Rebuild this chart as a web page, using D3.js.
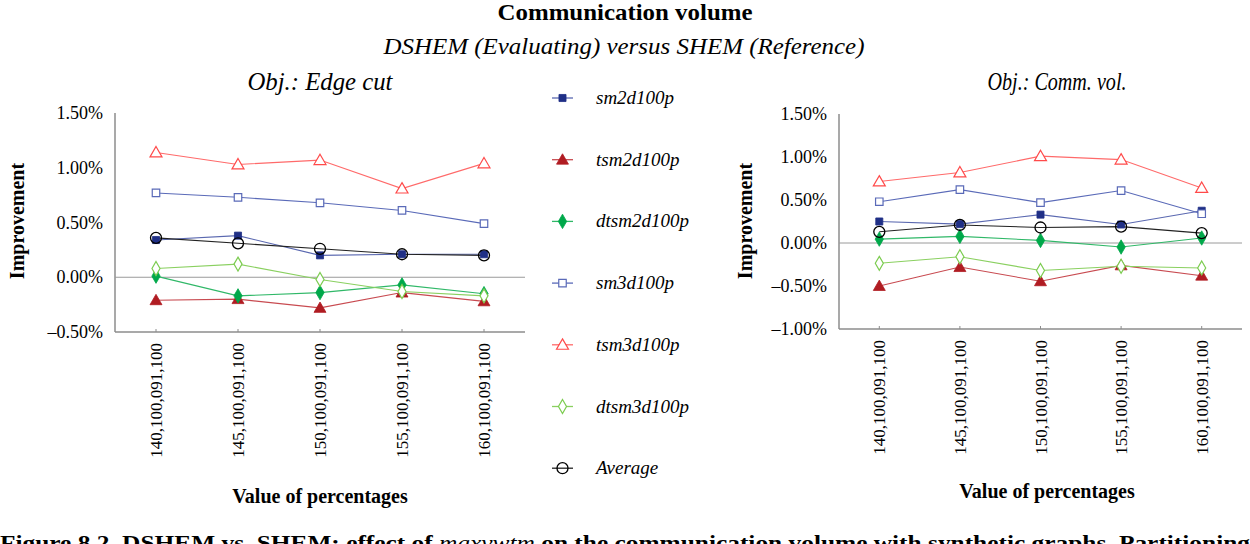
<!DOCTYPE html>
<html>
<head>
<meta charset="utf-8">
<script src="https://cdn.jsdelivr.net/npm/d3@7"></script>
<style>
  html, body { margin: 0; padding: 0; background: #fff; }
  svg { display: block; }
  text { font-family: "Liberation Serif", "Times New Roman", serif; fill: #000; }
</style>
</head>
<body>
<svg id="chart" width="1250" height="544"></svg>
<script>
// ---------- DATA ----------
const categories = ["140,100,091,100", "145,100,091,100", "150,100,091,100", "155,100,091,100", "160,100,091,100"];
const seriesNames = ["sm2d100p", "tsm2d100p", "dtsm2d100p", "sm3d100p", "tsm3d100p", "dtsm3d100p", "Average"];

// Obj.: Edge cut (values in %)
const edgeSm2d   = [0.34, 0.38, 0.20, 0.21, 0.21];
const edgeTsm2d  = [-0.21, -0.20, -0.28, -0.14, -0.22];
const edgeDtsm2d = [0.01, -0.17, -0.14, -0.07, -0.15];
const edgeSm3d   = [0.77, 0.73, 0.68, 0.61, 0.49];
const edgeTsm3d  = [1.14, 1.03, 1.07, 0.81, 1.04];
const edgeDtsm3d = [0.08, 0.12, -0.02, -0.13, -0.17];
const edgeAvg    = [0.36, 0.31, 0.26, 0.21, 0.20];

// Obj.: Comm. vol. (values in %)
const commSm2d   = [0.25, 0.22, 0.33, 0.215, 0.375];
const commTsm2d  = [-0.50, -0.28, -0.445, -0.26, -0.38];
const commDtsm2d = [0.045, 0.077, 0.03, -0.047, 0.058];
const commSm3d   = [0.48, 0.62, 0.47, 0.61, 0.34];
const commTsm3d  = [0.715, 0.82, 1.01, 0.97, 0.64];
const commDtsm3d = [-0.236, -0.16, -0.32, -0.27, -0.29];
const commAvg    = [0.13, 0.21, 0.18, 0.19, 0.115];

const edgeTicks = [-0.5, 0, 0.5, 1.0, 1.5];
const commTicks = [-1.0, -0.5, 0, 0.5, 1.0, 1.5];

// ---------- STYLES ----------
const styles = {
  "sm2d100p":   { color: "#1f2f86", line: "#5a68b0", shape: "square",   fill: true },
  "tsm2d100p":  { color: "#b01c22", line: "#c84a50", shape: "triangle", fill: true },
  "dtsm2d100p": { color: "#00a84a", line: "#30b868", shape: "diamond",  fill: true },
  "sm3d100p":   { color: "#5a6ab8", line: "#5a6ab8", shape: "square",   fill: false },
  "tsm3d100p":  { color: "#ff4a4a", line: "#ff6a6a", shape: "triangle", fill: false },
  "dtsm3d100p": { color: "#7ccc50", line: "#8ad060", shape: "diamond",  fill: false },
  "Average":    { color: "#000000", line: "#222222", shape: "circle",   fill: false }
};

const edgeData = [edgeSm2d, edgeTsm2d, edgeDtsm2d, edgeSm3d, edgeTsm3d, edgeDtsm3d, edgeAvg];
const commData = [commSm2d, commTsm2d, commDtsm2d, commSm3d, commTsm3d, commDtsm3d, commAvg];

const svg = d3.select("#chart");
const fmt = v => (v < 0 ? "\u2013" : "") + Math.abs(v).toFixed(2) + "%";

function drawMarker(g, shape, fill, color, x, y) {
  if (shape === "circle") {
    g.append("circle").attr("cx", x).attr("cy", y).attr("r", 5.5)
      .attr("fill", "none").attr("stroke", color).attr("stroke-width", 1.3);
    return;
  }
  let sym, size;
  if (shape === "square") { sym = d3.symbolSquare; size = fill ? 50 : 56; }
  if (shape === "triangle") { sym = d3.symbolTriangle; size = 62; }
  if (shape === "diamond") { sym = d3.symbolDiamond; size = fill ? 60 : 56; }
  g.append("path").attr("d", d3.symbol().type(sym).size(size)())
    .attr("transform", `translate(${x},${y + (shape === "triangle" ? 1 : 0)})`)
    .attr("fill", fill ? color : "#fff")
    .attr("stroke", color).attr("stroke-width", fill ? 0.8 : 1.2);
}

function panel(opts) {
  const x = d3.scalePoint().domain(categories).range([opts.x0, opts.x1]).padding(0.5);
  const y = d3.scaleLinear().domain(opts.domain).range([opts.yBottom, opts.yTop]);
  const g = svg.append("g");

  g.append("line").attr("x1", opts.x0).attr("x2", opts.x0)
    .attr("y1", opts.yTop).attr("y2", opts.yBottom)
    .attr("stroke", "#8c8c8c").attr("stroke-width", 1.5);
  g.append("line").attr("x1", opts.x0).attr("x2", opts.x1)
    .attr("y1", opts.yBottom).attr("y2", opts.yBottom)
    .attr("stroke", "#8c8c8c").attr("stroke-width", 1.5);
  g.append("line").attr("x1", opts.x0).attr("x2", opts.x1)
    .attr("y1", y(0)).attr("y2", y(0))
    .attr("stroke", "#9a9a9a").attr("stroke-width", 1);

  categories.forEach(c => {
    g.append("line").attr("x1", x(c)).attr("x2", x(c))
      .attr("y1", opts.yBottom).attr("y2", opts.yBottom - 3)
      .attr("stroke", "#8c8c8c").attr("stroke-width", 1);
    g.append("text")
      .attr("transform", `translate(${x(c) + 6},${opts.yBottom + 11}) rotate(-90)`)
      .attr("text-anchor", "end")
      .attr("font-size", 17)
      .text(c);
  });

  opts.ticks.forEach(t => {
    g.append("text").attr("x", opts.x0 - 12).attr("y", y(t) + 6)
      .attr("text-anchor", "end").attr("font-size", 18)
      .text(fmt(t));
  });

  opts.data.forEach((vals, i) => {
    const st = styles[seriesNames[i]];
    const line = d3.line().x((d, j) => x(categories[j])).y(d => y(d));
    g.append("path").attr("d", line(vals)).attr("fill", "none")
      .attr("stroke", st.line).attr("stroke-width", 1.1);
  });
  opts.data.forEach((vals, i) => {
    const st = styles[seriesNames[i]];
    vals.forEach((v, j) => drawMarker(g, st.shape, st.fill, st.color, x(categories[j]), y(v)));
  });

  g.append("text").attr("x", opts.objX).attr("y", 90)
    .attr("text-anchor", "middle").attr("font-size", 25).attr("font-style", "italic")
    .attr("textLength", opts.objW).attr("lengthAdjust", "spacingAndGlyphs")
    .text(opts.obj);
  g.append("text")
    .attr("transform", `translate(${opts.impX},${opts.impY}) rotate(-90)`)
    .attr("text-anchor", "middle").attr("font-size", 20).attr("font-weight", "bold")
    .text("Improvement");
  g.append("text").attr("x", opts.valX).attr("y", opts.valY)
    .attr("text-anchor", "middle").attr("font-size", 20).attr("font-weight", "bold")
    .text("Value of percentages");
}

panel({ x0: 115, x1: 525, yTop: 113, yBottom: 332, domain: [-0.5, 1.5], ticks: edgeTicks,
        data: edgeData, obj: "Obj.: Edge cut", objX: 320, objW: 145, impX: 24, impY: 221,
        valX: 320, valY: 503 });
panel({ x0: 839, x1: 1242, yTop: 114, yBottom: 329, domain: [-1.0, 1.5], ticks: commTicks,
        data: commData, obj: "Obj.: Comm. vol.", objX: 1057, objW: 139, impX: 752, impY: 221,
        valX: 1047, valY: 498 });

svg.append("text").attr("x", 625).attr("y", 20).attr("text-anchor", "middle")
  .attr("font-size", 24).attr("font-weight", "bold")
  .attr("textLength", 255).attr("lengthAdjust", "spacingAndGlyphs")
  .text("Communication volume");
svg.append("text").attr("x", 624).attr("y", 54).attr("text-anchor", "middle")
  .attr("font-size", 24).attr("font-style", "italic")
  .attr("textLength", 481).attr("lengthAdjust", "spacingAndGlyphs")
  .text("DSHEM (Evaluating) versus SHEM (Reference)");

const leg = svg.append("g");
seriesNames.forEach((name, i) => {
  const st = styles[name];
  const yy = 98 + i * 61.7;
  leg.append("line").attr("x1", 552).attr("x2", 573).attr("y1", yy).attr("y2", yy)
    .attr("stroke", st.line).attr("stroke-width", 1.3);
  drawMarker(leg, st.shape, st.fill, st.color, 562.5, yy);
  leg.append("text").attr("x", 596).attr("y", yy + 6).attr("font-size", 19)
    .attr("font-style", "italic").text(name);
});

const cap = svg.append("text").attr("x", 0).attr("y", 550).attr("font-size", 21)
  .attr("font-weight", "bold").attr("textLength", 1250).attr("lengthAdjust", "spacingAndGlyphs");
cap.append("tspan").text("Figure 8.2.  DSHEM vs. SHEM: effect of  ");
cap.append("tspan").attr("font-style", "italic").attr("font-weight", "normal").text("maxvwtm");
cap.append("tspan").text(" on the communication volume with synthetic graphs. Partitioning");
</script>
</body>
</html>
